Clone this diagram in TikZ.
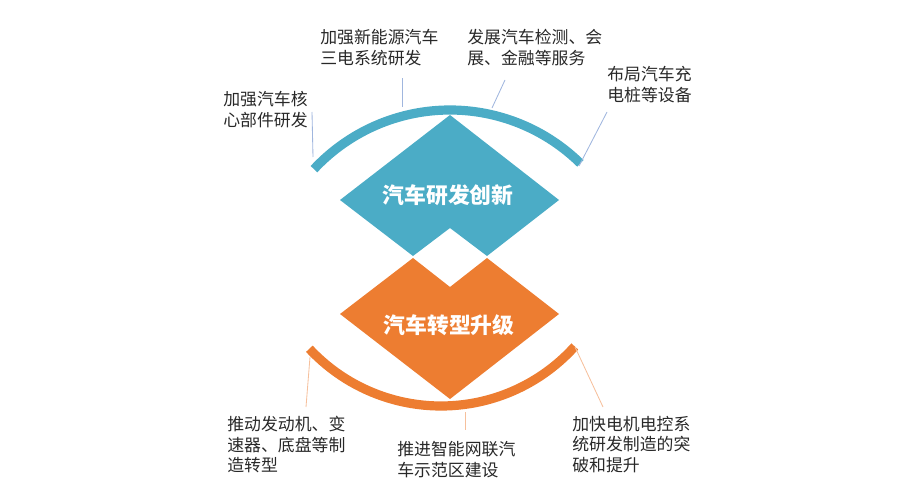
\documentclass[tikz,border=0pt]{standalone}
\usepackage{fontspec}
\setmainfont{Noto Sans CJK SC}
\newfontfamily\cjk{Noto Sans CJK SC}
\usepackage{xcolor}
\definecolor{cBlue}{RGB}{75,172,198}
\definecolor{cOrange}{RGB}{237,125,49}
\definecolor{cLineB}{RGB}{160,182,222}
\definecolor{cLineO}{RGB}{246,192,156}
\definecolor{cText}{RGB}{40,40,40}
\tikzset{
	hub/.style={font=\cjk\bfseries\fontsize{15.5}{18}\selectfont, text=white, inner sep=0pt},
	tag/.style={font=\cjk\fontsize{12}{14.6}\selectfont, text=cText, align=left, anchor=north west, inner sep=0pt},
	% arc bands around the two diamonds
	bandB/.style={draw=cBlue, line width=2.3mm},
	bandO/.style={draw=cOrange, line width=2.3mm},
	leadB/.style={draw=cLineB, line width=0.6pt},
	leadO/.style={draw=cLineO, line width=0.6pt},
}
\begin{document}
\begin{tikzpicture}[x=0.25mm, y=0.25mm]
	\useasboundingbox (0,0) rectangle (900,496);
	% upper diamond with notch
	\fill[cBlue] (450,381) -- (559,296) -- (487,240) -- (450,268) -- (413,240) -- (340,296) -- cycle;
	% lower diamond with notch
	\fill[cOrange] (413,238) -- (450,209) -- (487,238) -- (559,182) -- (450,97) -- (340,182) -- cycle;
	\node[hub] (rd) at (448,301) {汽车研发创新};
	\node[hub] (zx) at (449,171) {汽车转型升级};
	\draw[bandB] (450,200) ++(45.5:186) arc[start angle=45.5, end angle=137, radius=186];
	\draw[bandO] (441,270) ++(223:180) arc[start angle=223, end angle=318, radius=180];
	% labels
	\foreach \nm/\pos/\txt in {t1/{223,405}/{加强汽车核\\心部件研发},
			t2/{320,467}/{加强新能源汽车\\三电系统研发},
			t3/{467,467}/{发展汽车检测、会\\展、金融等服务},
			t4/{607,430}/{布局汽车充\\电桩等设备},
			b1/{227,80}/{推动发动机、变\\速器、底盘等制\\造转型},
			b2/{397,55}/{推进智能网联汽\\车示范区建设},
			b3/{572,80}/{加快电机电控系\\统研发制造的突\\破和提升}} {
		\node[tag] (\nm) at (\pos) {\txt};
	}
	% leader ends
	\foreach \nm/\a/\b in {t1/{313,339}/{312,384}, t2/{402,389}/{402,418},
			t3/{492,388}/{505,416}, t4/{579,330}/{607,384}} {
		\coordinate (\nm s) at (\a);
		\coordinate (\nm e) at (\b);
		\draw[leadB] (\nm s) -- (\nm e);
	}
	\foreach \nm/\a/\b in {b1/{310,139}/{306,89}, b2/{465,84}/{465,66},
			b3/{575,149}/{603,89}} {
		\coordinate (\nm s) at (\a);
		\coordinate (\nm e) at (\b);
		\draw[leadO] (\nm s) -- (\nm e);
	}
\end{tikzpicture}
\end{document}
